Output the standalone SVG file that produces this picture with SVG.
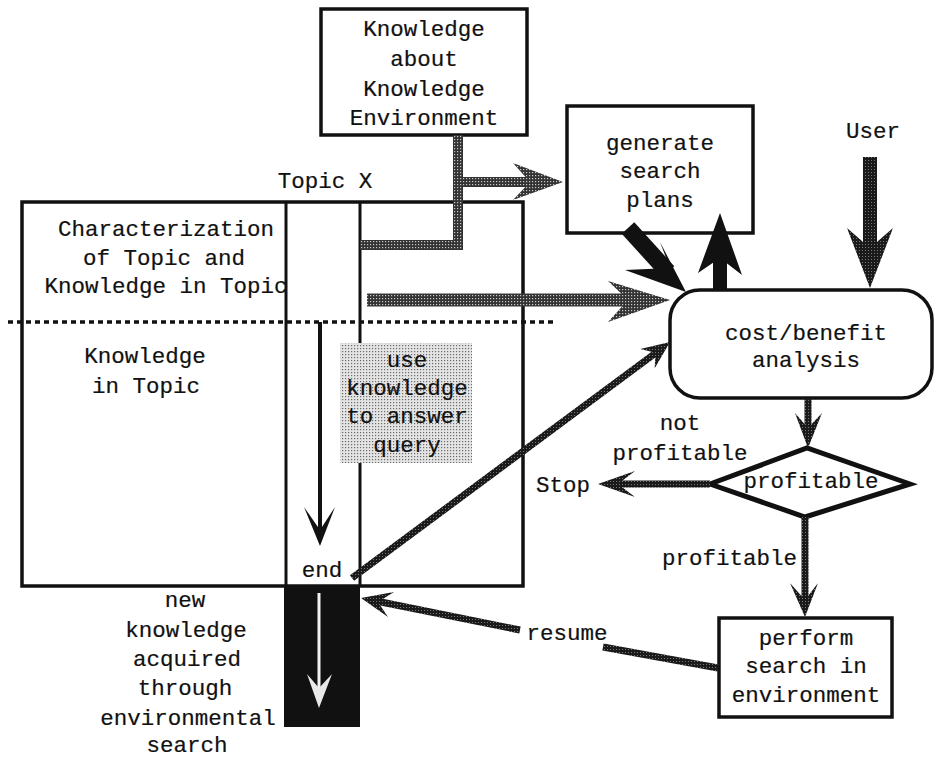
<svg xmlns="http://www.w3.org/2000/svg" width="936" height="759" viewBox="0 0 936 759">
  <style>
    text { font-family: "Liberation Mono", "Courier New", monospace; font-size: 22.5px; fill: #111; stroke: #111; stroke-width: 0.2; text-anchor: middle; }
    .box { fill: #fff; stroke: #111; stroke-width: 3.5; }
    .line { fill: none; stroke: #111; stroke-width: 3; }
    .gray { fill: none; stroke: url(#texGray); }
    .dark { fill: none; stroke: url(#texDark); stroke-width: 7; }
    .headGray { fill: url(#texGray); }
    .headDark { fill: url(#texDark); }
    .black { fill: #111; }
  </style>
  <defs>
    <pattern id="texGray" width="3" height="3" patternUnits="userSpaceOnUse">
      <rect width="3" height="3" fill="#333"/>
      <rect x="1" y="1" width="1.2" height="1.2" fill="#c8c8c8"/>
    </pattern>
    <pattern id="texDark" width="3" height="3" patternUnits="userSpaceOnUse">
      <rect width="3" height="3" fill="#1a1a1a"/>
      <rect x="1" y="1" width="1" height="1" fill="#777"/>
    </pattern>
    <pattern id="stipple" width="3" height="3" patternUnits="userSpaceOnUse">
      <rect width="3" height="3" fill="#e4e4e4"/>
      <rect x="0" y="0" width="1.2" height="1.2" fill="#6a6a6a"/>
    </pattern>
  </defs>

  <!-- knowledge about the environment -->
  <g id="knowledge-env">
    <rect class="box" x="321" y="9" width="206" height="126"/>
    <text x="424" y="36">Knowledge</text>
    <text x="424" y="66">about</text>
    <text x="424" y="96">Knowledge</text>
    <text x="424" y="125">Environment</text>
  </g>

  <!-- topic X frame with its columns -->
  <g id="topic-x">
    <text x="325" y="188">Topic X</text>
    <rect class="box" x="22" y="202" width="501" height="384" fill="none"/>
    <line class="line" x1="286" y1="202" x2="286" y2="586"/>
    <line class="line" x1="360" y1="202" x2="360" y2="343"/>
    <line class="line" x1="360" y1="463" x2="360" y2="586"/>
    <line x1="8" y1="322" x2="556" y2="322" stroke="#111" stroke-width="3.5" stroke-dasharray="5 4"/>
    <text x="166" y="236">Characterization</text>
    <text x="164" y="265">of Topic and</text>
    <text x="166" y="293">Knowledge in Topic</text>
    <text x="145" y="363">Knowledge</text>
    <text x="146" y="393">in Topic</text>
    <text x="322" y="577">end</text>
  </g>

  <g id="use-knowledge">
    <rect x="340" y="343" width="132" height="120" fill="url(#stipple)"/>
    <g style="stroke-width:0.6">
      <text x="407" y="367">use</text>
      <text x="407" y="395">knowledge</text>
      <text x="407" y="423">to answer</text>
      <text x="407" y="452">query</text>
    </g>
  </g>

  <g id="new-knowledge">
    <rect x="284" y="586" width="76" height="141" fill="#111"/>
    <text x="185" y="607">new</text>
    <text x="186" y="637">knowledge</text>
    <text x="187" y="666">acquired</text>
    <text x="185" y="695">through</text>
    <text x="188" y="725">environmental</text>
    <text x="187" y="752">search</text>
  </g>

  <g id="generate-plans">
    <rect class="box" x="567" y="106" width="186" height="127"/>
    <text x="660" y="150">generate</text>
    <text x="660" y="178">search</text>
    <text x="660" y="207">plans</text>
  </g>

  <g id="user">
    <text x="873" y="138">User</text>
  </g>

  <g id="cost-benefit">
    <rect class="box" x="670" y="290" width="262" height="108" rx="30"/>
    <text x="806" y="340">cost/benefit</text>
    <text x="806" y="367">analysis</text>
  </g>

  <g id="profitable-decision">
    <polygon points="710,484 807,448 910,484 805,517" fill="#fff" stroke="#111" stroke-width="5" stroke-linejoin="miter"/>
    <text x="811" y="488">profitable</text>
  </g>

  <g id="stop">
    <text x="563" y="492">Stop</text>
  </g>

  <g id="perform-search">
    <rect class="box" x="719" y="618" width="173" height="99" stroke-width="4"/>
    <text x="806" y="645">perform</text>
    <text x="806" y="673">search in</text>
    <text x="806" y="702">environment</text>
  </g>

  <g id="labels">
    <text x="680" y="430">not</text>
    <text x="680" y="460">profitable</text>
    <text x="797" y="565" style="text-anchor:end">profitable</text>
    <text x="567" y="640">resume</text>
  </g>

  <g id="connectors">
    <!-- environment knowledge into the topic and on to planning -->
    <path class="gray" d="M360,245 H458 V135" stroke-width="10"/>
    <path class="gray" d="M458,182 H532" stroke-width="10"/>
    <polygon class="headGray" points="563,182 513,163 530,182 513,200"/>

    <!-- topic characterization into cost/benefit -->
    <path class="gray" d="M367,300 H635" stroke-width="13"/>
    <polygon class="headGray" points="670,300 608,281 628,300 608,322"/>

    <!-- plans into cost/benefit -->
    <path d="M628,228 L668,272" stroke="#111" stroke-width="17" fill="none"/>
    <polygon class="black" points="686,292 660,242 670,268 625,270"/>

    <!-- cost/benefit back to planning -->
    <path d="M720,290 V245" stroke="#111" stroke-width="14" fill="none"/>
    <polygon class="black" points="720,213 742,275 720,258 698,273"/>

    <!-- user request -->
    <path d="M870,157 V255" stroke="url(#texDark)" stroke-width="14" fill="none"/>
    <polygon class="headDark" points="870,288 847,228 870,248 893,228"/>

    <!-- answer end into cost/benefit -->
    <path class="dark" d="M352,578 L657,352"/>
    <polygon class="headDark" points="670,342 654.7,368.3 655.5,352.7 640.3,349.1"/>

    <!-- cost/benefit to decision -->
    <path class="dark" d="M808,398 V432" stroke-width="6"/>
    <polygon class="headDark" points="808,448 795,413 808,428 822,413"/>

    <!-- not profitable: stop -->
    <path class="dark" d="M710,484 H612" stroke-width="6"/>
    <polygon class="headDark" points="598,484 635,471 618,484 635,497"/>

    <!-- profitable: search -->
    <path class="dark" d="M805,517 V602" stroke-width="6"/>
    <polygon class="headDark" points="805,617 790,583 805,600 818,583"/>

    <!-- resume after search -->
    <path class="dark" d="M718,668 L603,647"/>
    <path class="dark" d="M520,630 L376,601"/>
    <polygon class="headDark" points="361,598 394,592 378,602 388,617"/>

    <!-- answering inside the topic -->
    <path d="M320,322 V530" stroke="#111" stroke-width="4" fill="none"/>
    <polygon class="black" points="320,546 304,507 320,530 335,507"/>

    <!-- new knowledge flow -->
    <path d="M319,593 V688" stroke="#f2f2f2" stroke-width="3" fill="none"/>
    <polygon points="319,708 307,674 319,688 332,674" fill="#e8e8e8"/>
  </g>
</svg>
